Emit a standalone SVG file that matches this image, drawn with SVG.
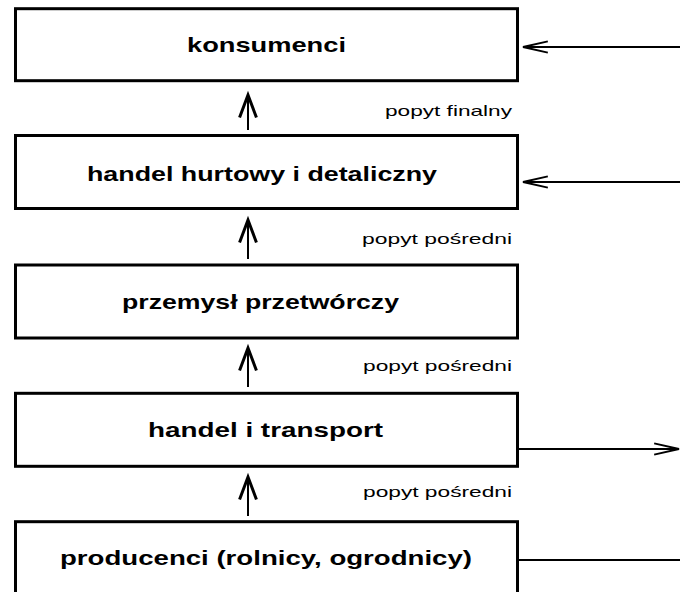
<svg xmlns="http://www.w3.org/2000/svg" width="680" height="592" viewBox="0 0 680 592">
<style>
.box{fill:#fff;stroke:#000;stroke-width:3}
.t{font-family:"Liberation Sans",Arial,sans-serif;font-weight:bold;font-size:21px;fill:#000}
.lbl{font-family:"Liberation Sans",Arial,sans-serif;font-size:15px;fill:#000}
.c{fill:none;stroke:#000;stroke-width:2}
</style>
<defs>
<marker id="short" markerUnits="userSpaceOnUse" markerWidth="30" markerHeight="30" viewBox="-14 -8 16 16" refX="0" refY="0" orient="auto" overflow="visible">
<path d="M-12,-4.5 L0,0 L-12,4.5" fill="none" stroke="#000" stroke-width="1.6"/>
</marker>
<marker id="long" markerUnits="userSpaceOnUse" markerWidth="30" markerHeight="30" viewBox="-27 -8 29 16" refX="0" refY="0" orient="auto" overflow="visible">
<path d="M-24,-5.5 L0,0 L-24,5.5" fill="none" stroke="#000" stroke-width="1.8"/>
</marker>
</defs>
<rect width="680" height="592" fill="#fff"/>
<g id="konsumenci">
<rect class="box" x="15.5" y="8.7" width="502" height="72"/>
<text class="t" x="187" y="52" textLength="159" lengthAdjust="spacingAndGlyphs">konsumenci</text>
</g>
<g id="handel-hurtowy">
<rect class="box" x="15.5" y="135.5" width="502" height="73"/>
<text class="t" x="87" y="181" textLength="350" lengthAdjust="spacingAndGlyphs">handel hurtowy i detaliczny</text>
</g>
<g id="przemysl">
<rect class="box" x="15.5" y="265" width="502" height="73"/>
<text class="t" x="122" y="309" textLength="277" lengthAdjust="spacingAndGlyphs">przemysł przetwórczy</text>
</g>
<g id="handel-transport">
<rect class="box" x="15.5" y="393.3" width="502" height="73"/>
<text class="t" x="148" y="437" textLength="235" lengthAdjust="spacingAndGlyphs">handel i transport</text>
</g>
<g id="producenci">
<rect class="box" x="15.5" y="521.7" width="502" height="80"/>
<text class="t" x="60" y="565" textLength="412" lengthAdjust="spacingAndGlyphs">producenci (rolnicy, ogrodnicy)</text>
</g>
<g id="connectors">
<line class="c" x1="248" y1="130" x2="248" y2="95" marker-end="url(#short)"/>
<line class="c" x1="248" y1="259" x2="248" y2="220" marker-end="url(#short)"/>
<line class="c" x1="248" y1="387" x2="248" y2="348" marker-end="url(#short)"/>
<line class="c" x1="248" y1="516" x2="248" y2="477" marker-end="url(#short)"/>
<line class="c" x1="680" y1="47" x2="523" y2="47" marker-end="url(#long)"/>
<line class="c" x1="680" y1="182" x2="523" y2="182" marker-end="url(#long)"/>
<line class="c" x1="519" y1="449" x2="679" y2="449" marker-end="url(#long)"/>
<line class="c" x1="519" y1="560" x2="680" y2="560"/>
<text class="lbl" x="385" y="116" textLength="127" lengthAdjust="spacingAndGlyphs">popyt finalny</text>
<text class="lbl" x="362" y="244" textLength="150" lengthAdjust="spacingAndGlyphs">popyt pośredni</text>
<text class="lbl" x="363" y="371" textLength="149" lengthAdjust="spacingAndGlyphs">popyt pośredni</text>
<text class="lbl" x="363" y="497" textLength="149" lengthAdjust="spacingAndGlyphs">popyt pośredni</text>
</g>
</svg>
